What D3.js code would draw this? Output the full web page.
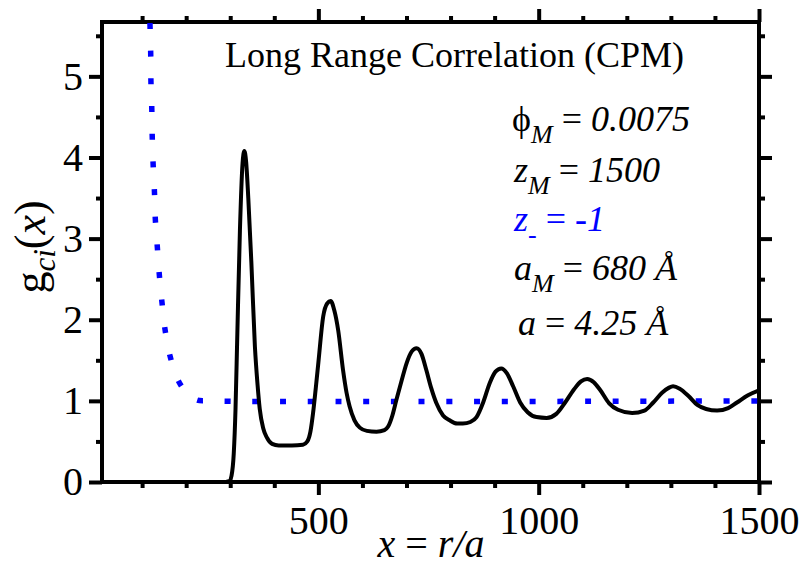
<!DOCTYPE html>
<html>
<head>
<meta charset="utf-8">
<script src="https://cdn.jsdelivr.net/npm/d3@7"></script>
<style>
body { margin: 0; background: #fff; }
svg text { font-family: "Liberation Serif", "Times New Roman", serif; fill: #000; }
</style>
</head>
<body>
<svg width="804" height="567"></svg>
<script>
// data: x = r/a, g(x)
var gBlack = [
    [290, 0], [298, 0.01], [303, 0.08], [308, 0.35], [312, 0.9], [316, 1.8], [322, 3.1],
    [328, 3.93], [332, 4.08], [336, 3.95], [341, 3.5], [348, 2.7], [356, 1.67], [362, 1.2],
    [367, 0.9], [375, 0.66], [383, 0.55], [395, 0.47], [410, 0.45], [440, 0.45], [465, 0.46],
    [475, 0.5], [482, 0.62], [488, 0.85], [494, 1.15], [500, 1.47], [511, 2.04], [520, 2.2],
    [528, 2.23], [536, 2.12], [545, 1.87], [556, 1.38], [564, 1.1], [571, 0.93], [582, 0.76],
    [594, 0.67], [610, 0.63], [632, 0.62], [650, 0.64], [658, 0.68], [668, 0.82], [677, 1.01],
    [689, 1.25], [700, 1.46], [712, 1.61], [723, 1.65], [734, 1.58], [745, 1.38], [756, 1.16],
    [768, 0.97], [783, 0.82], [798, 0.76], [815, 0.72], [828, 0.72], [845, 0.74], [859, 0.8],
    [874, 0.98], [889, 1.22], [902, 1.36], [915, 1.4], [928, 1.34], [942, 1.18], [958, 0.98],
    [975, 0.86], [995, 0.8], [1018, 0.79], [1040, 0.84], [1060, 0.98], [1080, 1.14],
    [1096, 1.24], [1110, 1.27], [1125, 1.23], [1140, 1.13], [1160, 0.97], [1180, 0.89],
    [1212, 0.85], [1240, 0.88], [1260, 0.98], [1280, 1.1], [1295, 1.16], [1305, 1.18],
    [1320, 1.15], [1340, 1.06], [1360, 0.95], [1380, 0.9], [1405, 0.88], [1430, 0.91],
    [1450, 0.98], [1475, 1.07], [1500, 1.13]
];

var gBlue = [
    [117, 6.0], [118, 5.62], [119.5, 5.29], [120, 4.95], [122, 4.6], [123, 4.26], [125, 3.92],
    [128, 3.58], [130, 3.24], [134.5, 2.9], [139, 2.56], [145, 2.22], [152, 1.88], [164, 1.54],
    [184, 1.23], [205, 1.08], [224, 1.01], [250, 1.0], [1500, 1.0]
];

var xMajorTicks = [500, 1000, 1500];
var xMinorTicks = [100, 200, 300, 400, 600, 700, 800, 900, 1100, 1200, 1300, 1400];
var yMajorTicks = [0, 1, 2, 3, 4, 5];
var yMinorTicks = [0.5, 1.5, 2.5, 3.5, 4.5, 5.5];

var xDomain = [9, 1500], yDomain = [0, 5.67];

// plot frame in pixels
var frameL = 102, frameR = 759, frameT = 22, frameB = 482;

var svg = d3.select("svg");

var x = d3.scaleLinear().domain(xDomain).range([frameL, frameR]);
var y = d3.scaleLinear().domain(yDomain).range([frameB, frameT]);

svg.append("clipPath").attr("id", "plotArea")
    .append("rect")
    .attr("x", frameL).attr("y", frameT)
    .attr("width", frameR - frameL).attr("height", frameB - frameT);

/* ----------- axes ----------- */

function drawAxis(axis, tx, ty) {
    let g = svg.append("g")
        .attr("transform", "translate(" + tx + "," + ty + ")")
        .call(axis);
    g.attr("font-size", 40).attr("font-family", null);
    g.select(".domain").remove();
    g.selectAll("line").attr("stroke", "#000").attr("stroke-width", 4);
    return g;
}

drawAxis(d3.axisBottom(x).tickValues(xMajorTicks).tickSize(13).tickSizeOuter(0).tickPadding(11).tickFormat(d3.format("d")), 0, frameB);
drawAxis(d3.axisBottom(x).tickValues(xMinorTicks).tickSize(6).tickSizeOuter(0).tickFormat(""), 0, frameB);
drawAxis(d3.axisTop(x).tickValues(xMajorTicks).tickSize(13).tickSizeOuter(0).tickFormat(""), 0, frameT);
drawAxis(d3.axisTop(x).tickValues(xMinorTicks).tickSize(6).tickSizeOuter(0).tickFormat(""), 0, frameT);

drawAxis(d3.axisLeft(y).tickValues(yMajorTicks).tickSize(13).tickSizeOuter(0).tickPadding(6).tickFormat(d3.format("d")), frameL, 0);
drawAxis(d3.axisLeft(y).tickValues(yMinorTicks).tickSize(6).tickSizeOuter(0).tickFormat(""), frameL, 0);
drawAxis(d3.axisRight(y).tickValues(yMajorTicks).tickSize(13).tickSizeOuter(0).tickFormat(""), frameR, 0);
drawAxis(d3.axisRight(y).tickValues(yMinorTicks).tickSize(6).tickSizeOuter(0).tickFormat(""), frameR, 0);

svg.append("rect")
    .attr("x", frameL).attr("y", frameT)
    .attr("width", frameR - frameL).attr("height", frameB - frameT)
    .attr("fill", "none")
    .attr("stroke", "#000")
    .attr("stroke-width", 4);

/* ----------- curves ----------- */

var line = d3.line()
    .x(d => x(d[0]))
    .y(d => y(d[1]))
    .curve(d3.curveMonotoneX);

svg.append("path")
    .datum(gBlue)
    .attr("clip-path", "url(#plotArea)")
    .attr("fill", "none")
    .attr("stroke", "#0000ff")
    .attr("stroke-width", 5.5)
    .attr("stroke-dasharray", "6 21.7")
    .attr("d", d3.line().x(d => x(d[0])).y(d => y(d[1])).curve(d3.curveCatmullRom));

svg.append("path")
    .datum(gBlack)
    .attr("clip-path", "url(#plotArea)")
    .attr("fill", "none")
    .attr("stroke", "#000")
    .attr("stroke-width", 4)
    .attr("stroke-linejoin", "round")
    .attr("d", line);

/* ----------- labels ----------- */

var xTitle = svg.append("text")
    .attr("x", 431).attr("y", 557)
    .attr("text-anchor", "middle")
    .attr("font-size", 40);
xTitle.append("tspan").attr("font-style", "italic").text("x");
xTitle.append("tspan").text(" = ");
xTitle.append("tspan").attr("font-style", "italic").text("r/a");

var yTitle = svg.append("text")
    .attr("transform", "translate(45,247) rotate(-90)")
    .attr("text-anchor", "middle")
    .attr("font-size", 44);
yTitle.append("tspan").text("g");
yTitle.append("tspan").attr("font-style", "italic").attr("font-size", 31).attr("dy", 10).text("ci");
yTitle.append("tspan").attr("dy", -10).text("(");
yTitle.append("tspan").attr("font-style", "italic").text("x");
yTitle.append("tspan").text(")");

svg.append("text")
    .attr("x", 225).attr("y", 67)
    .attr("font-size", 36)
    .text("Long Range Correlation (CPM)");

// parameter block: [text, italic, subscript]
var notes = [
    { x: 512, y: 131, color: "#000", parts: [["ϕ", false, false], ["M", true, true], [" = ", false, false], ["0.0075", true, false]] },
    { x: 514, y: 182, color: "#000", parts: [["z", true, false], ["M", true, true], [" = ", false, false], ["1500", true, false]] },
    { x: 514, y: 231, color: "#0000ff", parts: [["z", true, false], ["-", true, true], [" = ", false, false], ["-1", true, false]] },
    { x: 514, y: 280, color: "#000", parts: [["a", true, false], ["M", true, true], [" = ", false, false], ["680 Å", true, false]] },
    { x: 518, y: 335, color: "#000", parts: [["a", true, false], [" = ", false, false], ["4.25 Å", true, false]] }
];

notes.forEach(n => {
    let t = svg.append("text")
        .attr("x", n.x).attr("y", n.y)
        .attr("font-size", 36)
        .style("fill", n.color);
    let shifted = false;
    n.parts.forEach(p => {
        let s = t.append("tspan").attr("font-style", p[1] ? "italic" : "normal").text(p[0]);
        if (p[2]) { s.attr("font-size", 26).attr("dy", 12); shifted = true; }
        else if (shifted) { s.attr("dy", -12); shifted = false; }
    });
});
</script>
</body>
</html>
